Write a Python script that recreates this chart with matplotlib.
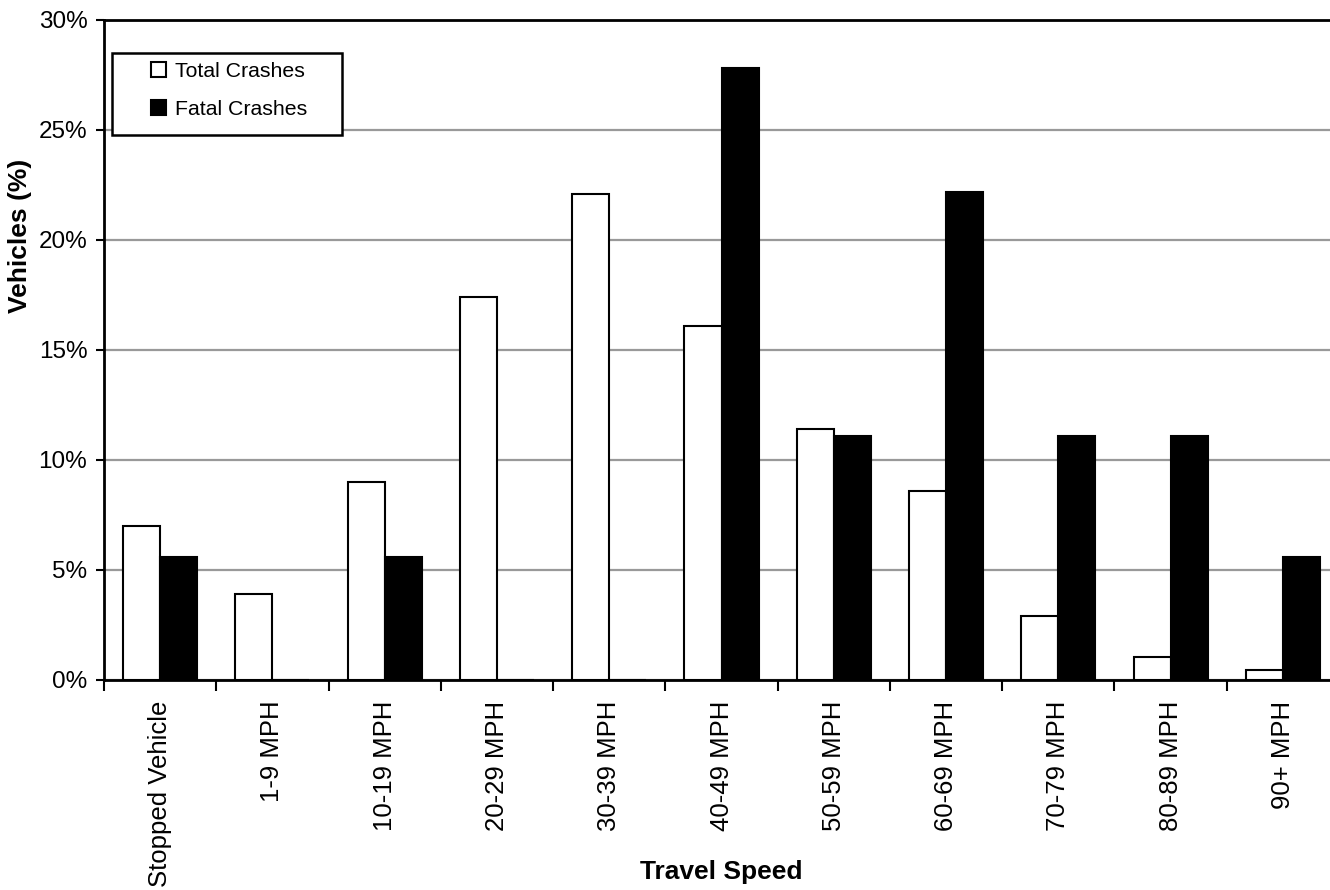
import numpy as np
import matplotlib.pyplot as plt
from matplotlib.patches import Rectangle

plt.rcParams['font.family'] = ['Liberation Sans', 'DejaVu Sans']

categories = ['Stopped Vehicle', '1-9 MPH', '10-19 MPH', '20-29 MPH', '30-39 MPH',
              '40-49 MPH', '50-59 MPH', '60-69 MPH', '70-79 MPH', '80-89 MPH', '90+ MPH']
total_crashes = [7.0, 3.9, 9.0, 17.4, 22.1, 16.1, 11.4, 8.6, 2.9, 1.05, 0.45]
fatal_crashes = [5.6, 0.0, 5.6, 0.0, 0.0, 27.8, 11.1, 22.2, 11.1, 11.1, 5.6]

fig = plt.figure(figsize=(13.3, 8.9), dpi=100)
ax = fig.add_axes([104/1330, 210/890, 1235/1330, 660/890])

x = np.arange(len(categories))
w = 0.33
ax.bar(x - w/2, total_crashes, w, color='white', edgecolor='black', linewidth=1.5, zorder=3,
       label='Total Crashes')
ax.bar(x + w/2, fatal_crashes, w, color='black', edgecolor='black', linewidth=1.5, zorder=3,
       label='Fatal Crashes')

ax.set_xlim(-0.5, len(categories) - 0.5)
ax.set_ylim(0, 30)
ax.set_yticks(np.arange(0, 31, 5))
ax.set_yticklabels([f'{v}%' for v in range(0, 31, 5)], fontsize=17.5)
ax.yaxis.grid(True, color='#999999', linewidth=1.6, zorder=0)
ax.set_axisbelow(True)

ax.set_xticks(x)
ax.set_xticklabels(categories, rotation=90, fontsize=18.5, va='top')
ax.tick_params(axis='x', which='major', length=0, pad=15)
ax.set_xticks(np.arange(-0.5, len(categories)), minor=True)
ax.tick_params(axis='x', which='minor', length=8, width=1.5, direction='out')
ax.tick_params(axis='y', length=6, width=1.5, direction='out', pad=6)

for s in ax.spines.values():
    s.set_linewidth(2)
    s.set_color('black')

ax.set_xlabel('Travel Speed', fontsize=19, fontweight='bold', va='center')
ax.xaxis.set_label_coords(0.5, (680 - 872) / 660)
fig.text(20/1330, 1 - 236/890, 'Vehicles (%)', rotation=90, fontsize=19, fontweight='bold',
         ha='center', va='center')

# legend box
ax.add_patch(Rectangle((8/1235, (680-135)/660), 230/1235, 82/660, transform=ax.transAxes,
                       facecolor='white', edgecolor='black', linewidth=1.8, zorder=5))
leg = ax.legend(loc='upper left', bbox_to_anchor=(47/1235, (680-62)/660), frameon=False,
                fontsize=15.3, handlelength=0.7, handleheight=0.7, handletextpad=0.45,
                labelspacing=0.9, borderpad=0, borderaxespad=0)
leg.set_zorder(6)

fig.savefig('out.png', dpi=100)
